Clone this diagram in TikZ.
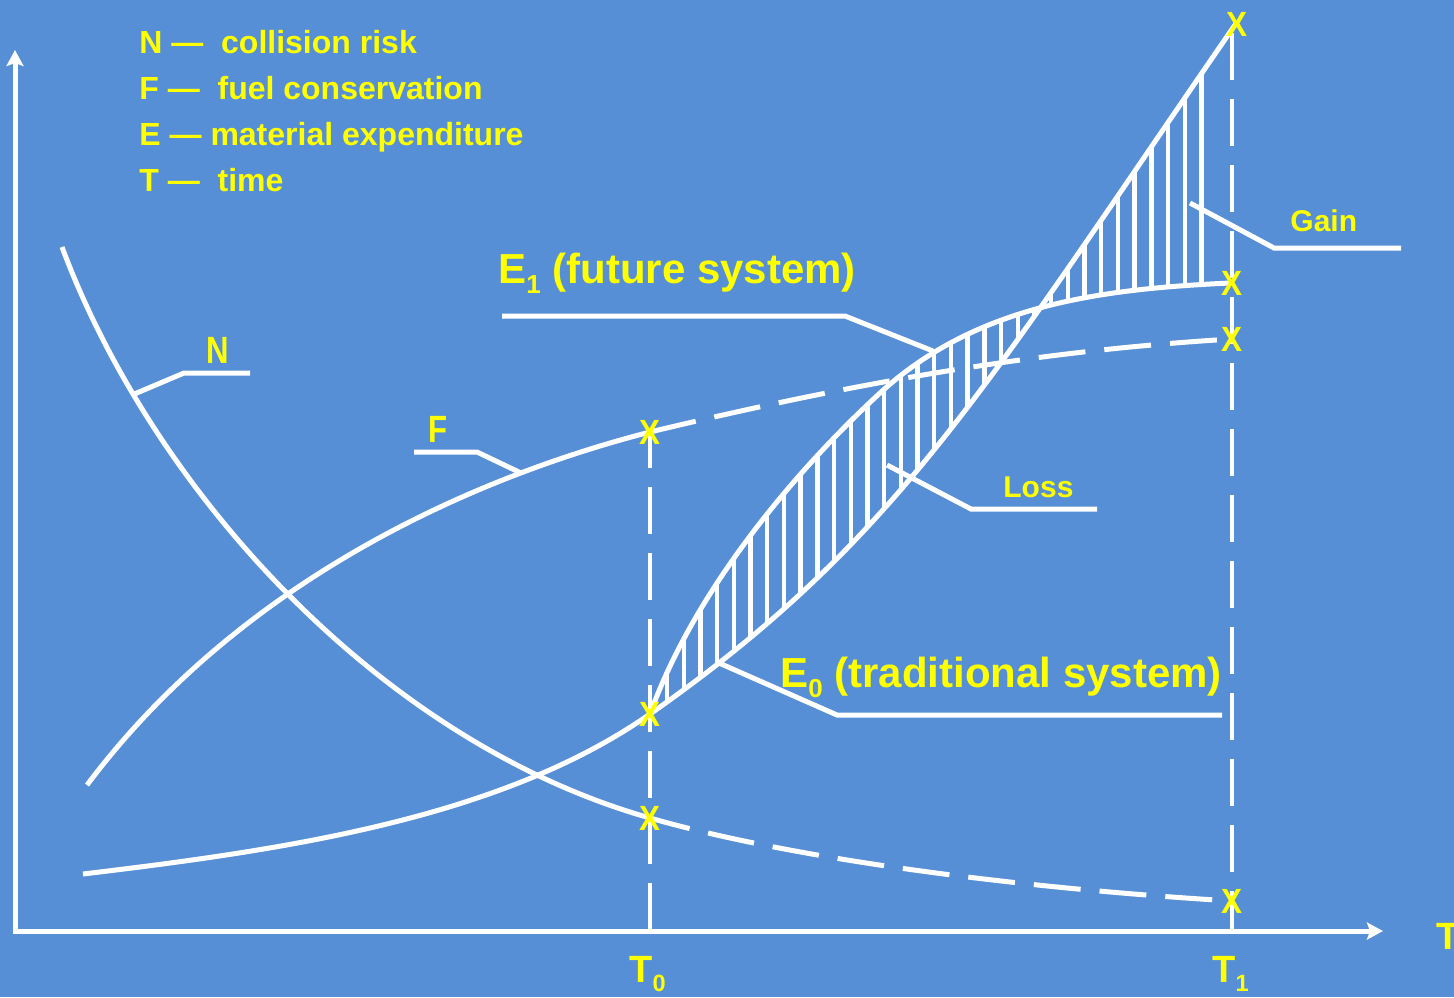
\documentclass[tikz,border=0pt]{standalone}
\usepackage{fontspec}
\setmainfont{Liberation Sans}
\usetikzlibrary{arrows.meta}
\definecolor{bgblue}{RGB}{86,143,213}
\definecolor{ylw}{RGB}{255,255,0}
\newcommand\lowsub[1]{\raisebox{-0.25em}{\scalebox{0.62}{#1}}}
\newcommand\fntLeg{\fontsize{16}{19}\selectfont\bfseries}
\newcommand\fntBig{\fontsize{21}{25}\selectfont\bfseries}
\newcommand\fntMid{\fontsize{19}{22}\selectfont\bfseries}
\newcommand\fntSml{\fontsize{15}{18}\selectfont\bfseries}
\newcommand\fntX{\fontsize{17.5}{20}\selectfont\bfseries}
\begin{document}
\begin{tikzpicture}[x=0.5pt,y=-0.5pt,
  wline/.style={draw=white,line width=2.5pt},
  dashln/.style={draw=white,line width=2.5pt,dash pattern=on 23.5pt off 9.5pt},
  vdash/.style={draw=white,line width=2.3pt,dash pattern=on 23.5pt off 9.5pt},
  hatchln/.style={draw=white,line width=2.2pt},
  leader/.style={draw=white,line width=2.5pt,line join=miter},
  axis/.style={draw=white,line width=2.5pt,line join=miter,
    {Stealth[length=8pt,width=8.5pt,inset=1.5pt]}-{Stealth[length=8pt,width=8.5pt,inset=1.5pt]}},
  lbl/.style={text=ylw,inner sep=0pt,anchor=base west},
  xmark/.style={text=ylw,inner sep=0pt,font=\fntX}
]
% background
\fill[bgblue] (0,0) rectangle (1454,997);
\useasboundingbox (0,0) rectangle (1454,997);

% hatching between E0 and E1
\begin{scope}
\clip (83,874) .. controls (283,850) and (500,819) .. (650,714)
  .. controls (900,539) and (987,384) .. (1237,22)
  -- (1230,283) .. controls (1100,289) and (976,305) .. (880,393)
  .. controls (792,474) and (694,592) .. (650,714) -- cycle;
\foreach \hx in {667,683.7,...,1216} {\draw[hatchln] (\hx,0) -- (\hx,997);}
\end{scope}

% axes
\coordinate (O) at (15,931);
\coordinate (ytip) at (15,50);
\coordinate (xtip) at (1383,931);
\draw[axis] (ytip) -- (O) -- (xtip);

% key points
\coordinate (t0f) at (650,432);
\coordinate (t0e) at (650,714);
\coordinate (t0n) at (650,818);
\coordinate (t0ax) at (650,931);
\coordinate (t1top) at (1232,22);
\coordinate (t1ax) at (1232,931);
\coordinate (t1e0) at (1237,24);
\coordinate (t1e1) at (1232,283);
\coordinate (t1f) at (1232,339);
\coordinate (t1n) at (1232,901);

% vertical dashed lines
\draw[vdash,dash phase=5.5pt] (t0f) -- (t0ax);
\draw[vdash,dash phase=27.5pt] (t1top) -- (t1ax);

% N curve
\draw[wline] (62,247) .. controls (153,491) and (381,742) .. (t0n);
\draw[dashln,dash phase=3pt] (t0n) .. controls (800,861) and (1032,889) .. (t1n);

% F curve
\draw[wline] (87,785) .. controls (225,601) and (437,487) .. (t0f);
\draw[dashln] (t0f) .. controls (850,384) and (1032,351) .. (t1f);

% E0 curve
\draw[wline] (83,874) .. controls (283,850) and (500,819) .. (t0e)
  .. controls (900,539) and (987,384) .. (1237,22);
% E1 curve
\draw[wline] (t0e) .. controls (694,592) and (792,474) .. (880,393)
  .. controls (976,305) and (1100,289) .. (1230,283);

% legend
\node[lbl,font=\fntLeg] (legN) at (139,53) {N — \ collision risk};
\node[lbl,font=\fntLeg] (legF) at (139,99) {F — \ fuel conservation};
\node[lbl,font=\fntLeg] (legE) at (139,145) {E — material expenditure};
\node[lbl,font=\fntLeg] (legT) at (139,191) {T — \ time};

% labels with leaders
\coordinate (Nfoot) at (132,395);
\coordinate (Nend) at (250,373);
\node[lbl,font=\fntMid] (Nlab) at (206,363) {\scalebox{0.82}[1]{N}};
\draw[leader] (Nfoot) -- (184,373) -- (Nend);

\coordinate (Ffoot) at (521,473);
\coordinate (Fend) at (414,452);
\node[lbl,font=\fntMid] (Flab) at (428,442) {\scalebox{0.82}[1]{F}};
\draw[leader] (Ffoot) -- (477,452) -- (Fend);

\coordinate (E1foot) at (933,351);
\coordinate (E1end) at (502,316);
\node[lbl,font=\fntBig] (E1lab) at (498,283) {E\lowsub{1} (future system)};
\draw[leader] (E1foot) -- (845,316) -- (E1end);

\coordinate (E0foot) at (719,663);
\coordinate (E0end) at (1222,715);
\node[lbl,font=\fntBig] (E0lab) at (780,687) {E\lowsub{0} (traditional system)};
\draw[leader] (E0foot) -- (837,715) -- (E0end);

\coordinate (Lfoot) at (887,465);
\coordinate (Lend) at (1097,509);
\node[lbl,font=\fntSml] (Llab) at (1003,497) {Loss};
\draw[leader] (Lfoot) -- (971,509) -- (Lend);

\coordinate (Gfoot) at (1190,203);
\coordinate (Gend) at (1401,248);
\node[lbl,font=\fntSml] (Glab) at (1290,231) {Gain};
\draw[leader] (Gfoot) -- (1274,248) -- (Gend);

% axis labels
\node[lbl,font=\fntMid] (T0lab) at (629,982) {T\lowsub{0}};
\node[lbl,font=\fntMid] (T1lab) at (1212,982) {T\lowsub{1}};
\node[lbl,font=\fntMid] (Tax) at (1436,949) {T};

% X markers
\node[xmark] (xf0) at (t0f) {\scalebox{0.9}[1]{X}};
\node[xmark] (xe0) at (t0e) {\scalebox{0.9}[1]{X}};
\node[xmark] (xn0) at (t0n) {\scalebox{0.9}[1]{X}};
\node[xmark] (xe0b) at (t1e0) {\scalebox{0.9}[1]{X}};
\node[xmark] (xe1b) at (t1e1) {\scalebox{0.9}[1]{X}};
\node[xmark] (xf1) at (t1f) {\scalebox{0.9}[1]{X}};
\node[xmark] (xn1) at (t1n) {\scalebox{0.9}[1]{X}};
\end{tikzpicture}
\end{document}
